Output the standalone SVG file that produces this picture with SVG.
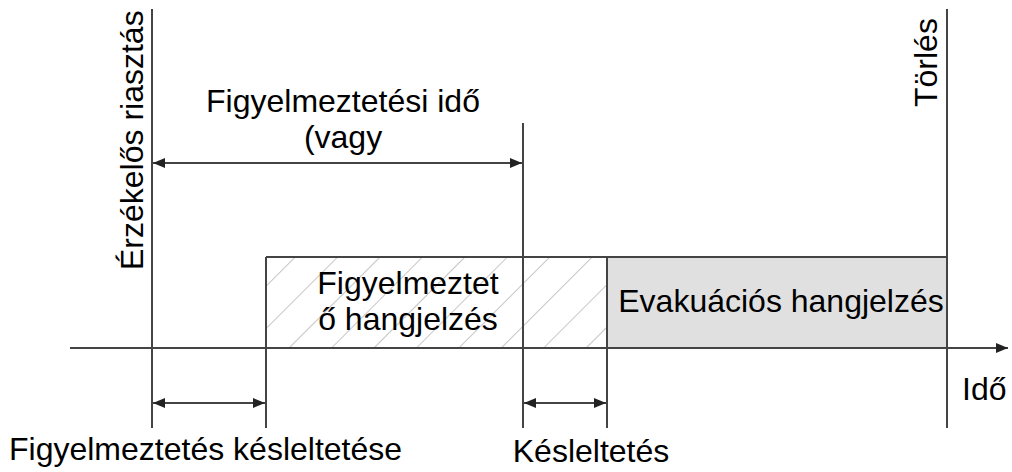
<svg xmlns="http://www.w3.org/2000/svg" width="1012" height="472" viewBox="0 0 1012 472">
<style>
.ln{stroke:#444;stroke-width:2;fill:none}
.t{font-family:"Liberation Sans",Arial,sans-serif;font-size:32px;fill:#000}
</style>
<defs>
<marker id="ah" viewBox="0 0 12 10" refX="12" refY="5" markerWidth="12" markerHeight="10" markerUnits="userSpaceOnUse" orient="auto-start-reverse">
<path d="M0,0 L12,5 L0,10 Z" fill="#222"/>
</marker>
<pattern id="hatch" patternUnits="userSpaceOnUse" width="30" height="30" patternTransform="rotate(45)">
<line x1="0" y1="0" x2="0" y2="30" stroke="#a0a0a0" stroke-width="1.2"/>
</pattern>
</defs>
<rect width="1012" height="472" fill="#fff"/>
<g id="warning-signal">
<rect x="266" y="257" width="341" height="91" fill="url(#hatch)"/>
<text class="t" x="408" y="294" text-anchor="middle">Figyelmeztet</text>
<text class="t" x="408" y="330" text-anchor="middle">ő hangjelzés</text>
</g>
<g id="evacuation-signal">
<rect x="607" y="257" width="340" height="91" fill="#e0e0e0"/>
<text class="t" x="781" y="312" text-anchor="middle">Evakuációs hangjelzés</text>
</g>
<g id="connectors">
<line class="ln" x1="266" y1="257" x2="947" y2="257" stroke="#666"/>
<line class="ln" x1="70" y1="348" x2="1008" y2="348" marker-end="url(#ah)"/>
<line class="ln" x1="152" y1="9" x2="152" y2="428"/>
<line class="ln" x1="266" y1="257" x2="266" y2="428"/>
<line class="ln" x1="523" y1="123" x2="523" y2="428"/>
<line class="ln" x1="607" y1="257" x2="607" y2="428"/>
<line class="ln" x1="947" y1="9" x2="947" y2="428"/>
<line class="ln" x1="153" y1="163" x2="522" y2="163" marker-start="url(#ah)" marker-end="url(#ah)"/>
<line class="ln" x1="153" y1="403" x2="265" y2="403" marker-start="url(#ah)" marker-end="url(#ah)"/>
<line class="ln" x1="524" y1="403" x2="606" y2="403" marker-start="url(#ah)" marker-end="url(#ah)"/>
</g>
<g id="labels">
<text class="t" transform="translate(143,270) rotate(-90)">Érzékelős riasztás</text>
<text class="t" transform="translate(937,107) rotate(-90)">Törlés</text>
<text class="t" x="343" y="112" text-anchor="middle">Figyelmeztetési idő</text>
<text class="t" x="343" y="148" text-anchor="middle">(vagy</text>
<text class="t" x="9" y="460">Figyelmeztetés késleltetése</text>
<text class="t" x="591" y="462" text-anchor="middle">Késleltetés</text>
<text class="t" x="962" y="400">Idő</text>
</g>
</svg>
